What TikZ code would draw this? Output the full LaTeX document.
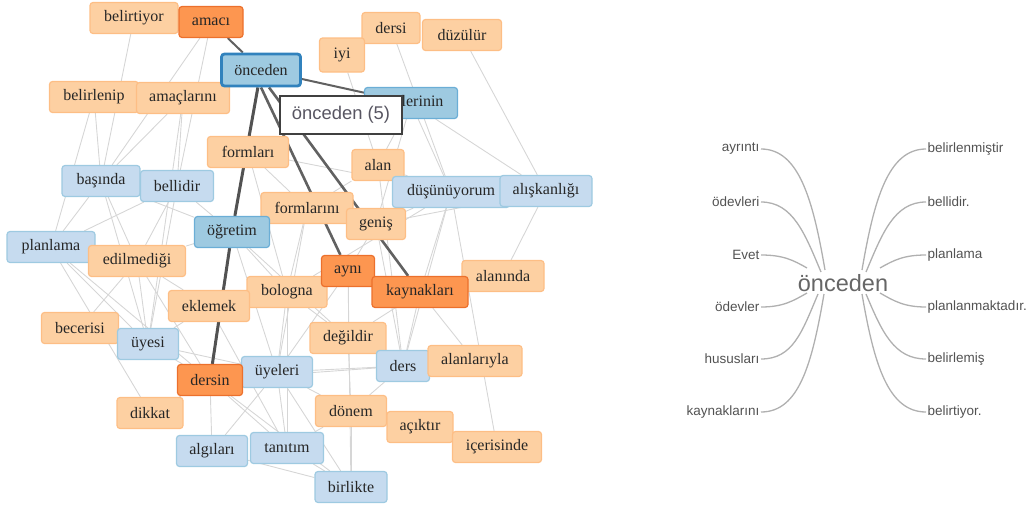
\documentclass[tikz,border=0pt]{standalone}
\usepackage{fontspec}
\setmainfont{Liberation Serif}
\newfontfamily\wtfont{Liberation Sans}
\usetikzlibrary{backgrounds}

\definecolor{loFill}{RGB}{253,208,162}
\definecolor{loLine}{RGB}{253,190,133}
\definecolor{doFill}{RGB}{253,150,80}
\definecolor{doLine}{RGB}{236,112,44}
\definecolor{lbFill}{RGB}{198,219,239}
\definecolor{lbLine}{RGB}{158,202,225}
\definecolor{mbFill}{RGB}{158,202,225}
\definecolor{mbLine}{RGB}{107,174,214}
\definecolor{topLine}{RGB}{49,130,189}
\definecolor{edgeGrey}{RGB}{214,214,214}
\definecolor{wtGrey}{RGB}{176,176,176}
\definecolor{tipText}{RGB}{88,86,98}

\begin{document}
\begin{tikzpicture}[x=1pt,y=-1pt,
    box/.style={draw, rounded corners=3pt, line width=1.2pt, minimum height=31pt,
      inner sep=0pt, font=\fontsize{16}{18}\selectfont, text=black!85},
    lo/.style={box, fill=loFill, draw=loLine},
    do/.style={box, fill=doFill, draw=doLine},
    lb/.style={box, fill=lbFill, draw=lbLine},
    mb/.style={box, fill=mbFill, draw=mbLine},
    thin/.style={draw=edgeGrey, line width=0.9pt},
    heavy/.style={draw=black!62, line width=2.6pt},
    tip/.style={draw=black!75, fill=white, line width=1.2pt, inner sep=0pt,
      minimum width=122pt, minimum height=38pt,
      font=\wtfont\fontsize{18.4}{20}\selectfont, text=tipText},
    wtc/.style={inner sep=0pt, font=\wtfont\fontsize{23.5}{26}\selectfont, text=black!60},
    wtl/.style={inner xsep=1.5pt, inner ysep=0pt, font=\wtfont\fontsize{13.5}{15}\selectfont, text=black!68},
    wtline/.style={draw=wtGrey, line width=1.3pt}]

  \path[use as bounding box] (0,0) rectangle (1028,506);

  % network
  \node[lo, minimum width=88pt] (belirtiyor) at (134,18) {belirtiyor};
  \node[do, minimum width=64pt] (amaci) at (211,22) {amacı};
  \node[lo, minimum width=58pt] (dersi) at (391,28) {dersi};
  \node[lo, minimum width=45pt, minimum height=34pt] (iyi) at (342,55) {iyi};
  \node[lo, minimum width=79pt] (duzulur) at (462,35) {düzülür};
  \node[lo, minimum width=89pt] (belirlenip) at (94,97) {belirlenip};
  \node[lo, minimum width=93pt] (amaclarini) at (183,98) {amaçlarını};
  \node[mb, minimum width=93pt] (uyelerinin) at (411,103) {üyelerinin};
  \node[box, fill=mbFill, draw=topLine, line width=2.8pt, minimum width=79pt, minimum height=32pt] (onceden) at (261,70) {önceden};
  \node[lo, minimum width=81pt] (formlari) at (248,152) {formları};
  \node[lo, minimum width=52pt] (alan) at (378,165) {alan};
  \node[lb, minimum width=78pt] (basinda) at (101,181) {başında};
  \node[lb, minimum width=73pt] (bellidir) at (177,186) {bellidir};
  \node[lb, minimum width=117pt] (dusunuyorum) at (451,192) {düşünüyorum};
  \node[lb, minimum width=92pt] (aliskanligi) at (546,191) {alışkanlığı};
  \node[lo, minimum width=92pt] (formlarini) at (307,208) {formlarını};
  \node[lo, minimum width=59pt] (genis) at (376,224) {geniş};
  \node[mb, minimum width=75pt] (ogretim) at (232,232) {öğretim};
  \node[lb, minimum width=88pt] (planlama) at (51,247) {planlama};
  \node[lo, minimum width=97pt] (edilmedigi) at (137,261) {edilmediği};
  \node[lo, minimum width=82pt] (alaninda) at (503,276) {alanında};
  \node[lo, minimum width=80pt] (bologna) at (287,292) {bologna};
  \node[do, minimum width=53pt] (ayni) at (348,271) {aynı};
  \node[do, minimum width=96pt] (kaynaklari) at (420,292) {kaynakları};
  \node[lo, minimum width=81pt] (eklemek) at (209,306) {eklemek};
  \node[lo, minimum width=77pt] (becerisi) at (80,328) {becerisi};
  \node[lb, minimum width=61pt] (uyesi) at (148,344) {üyesi};
  \node[lo, minimum width=76pt] (degildir) at (348,338) {değildir};
  \node[lb, minimum width=53pt] (ders) at (403,366) {ders};
  \node[lo, minimum width=94pt] (alanlariyla) at (475,361) {alanlarıyla};
  \node[lb, minimum width=71pt] (uyeleri) at (277,372) {üyeleri};
  \node[do, minimum width=65pt] (dersin) at (210,380) {dersin};
  \node[lo, minimum width=66pt] (dikkat) at (150,413) {dikkat};
  \node[lo, minimum width=71pt] (donem) at (351,411) {dönem};
  \node[lo, minimum width=66pt] (aciktir) at (420,427) {açıktır};
  \node[lo, minimum width=89pt] (icerisinde) at (497,447) {içerisinde};
  \node[lb, minimum width=71pt] (algilari) at (212,451) {algıları};
  \node[lb, minimum width=73pt] (tanitim) at (287,448) {tanıtım};
  \node[lb, minimum width=72pt] (birlikte) at (351,487) {birlikte};

  \begin{scope}[on background layer]
    \foreach \a/\b in {belirtiyor/basinda, amaci/basinda, amaci/bellidir,
        belirlenip/planlama, belirlenip/basinda, amaclarini/basinda,
        amaclarini/bellidir, amaclarini/uyesi, basinda/planlama,
        basinda/edilmedigi, basinda/uyesi, basinda/ogretim, bellidir/planlama,
        bellidir/ogretim, bellidir/uyesi, bellidir/edilmedigi,
        planlama/edilmedigi, planlama/uyesi, planlama/dikkat, planlama/dersin,
        edilmedigi/uyesi, edilmedigi/becerisi, edilmedigi/dersin,
        edilmedigi/eklemek, becerisi/uyesi, uyesi/dersin, uyesi/eklemek,
        uyesi/uyeleri, eklemek/bologna, eklemek/tanitim, ogretim/formlarini,
        ogretim/bologna, ogretim/uyeleri, ogretim/edilmedigi,
        ogretim/degildir, formlari/formlarini, formlari/bologna,
        formlari/dusunuyorum, formlarini/genis, formlarini/alan,
        formlarini/uyeleri, formlarini/bologna, alan/uyelerinin,
        alan/dusunuyorum, alan/ders, iyi/alan, dersi/dusunuyorum}
      \draw[thin] (\a) -- (\b);
    \foreach \a/\b in {duzulur/aliskanligi, uyelerinin/aliskanligi,
        uyelerinin/dusunuyorum, uyelerinin/genis, dusunuyorum/genis,
        dusunuyorum/kaynaklari, dusunuyorum/ders, dusunuyorum/icerisinde,
        dusunuyorum/bologna, aliskanligi/alaninda, genis/aliskanligi,
        genis/ayni, genis/ders, ayni/bologna, ayni/birlikte, ayni/uyeleri,
        ayni/degildir, kaynaklari/ders, kaynaklari/degildir,
        kaynaklari/alanlariyla, bologna/tanitim, bologna/degildir,
        bologna/uyeleri, degildir/donem, degildir/ders, ders/uyeleri,
        ders/alanlariyla, ders/donem, ders/dersin, dersin/algilari,
        dersin/tanitim, dersin/birlikte, dersin/dikkat, uyeleri/tanitim,
        uyeleri/birlikte, uyeleri/donem, donem/aciktir, donem/birlikte,
        donem/tanitim, tanitim/birlikte, algilari/birlikte, algilari/uyeleri,
        aciktir/icerisinde}
      \draw[thin] (\a) -- (\b);
    % heavy links of onceden
    \draw[heavy, line width=2pt] (onceden) -- (amaci);
    \draw[heavy, line width=2pt] (onceden) -- (uyelerinin);
    \draw[heavy, draw=black!68, line width=3pt] (onceden) -- (ogretim);
    \draw[heavy, draw=black!68, line width=3pt] (ogretim) -- (dersin);
    \draw[heavy] (onceden.south) -- (ayni);
    \draw[heavy] ([xshift=8pt]onceden.south) -- (kaynaklari);
  \end{scope}

  \node[tip] (tooltip) at (341,115) {önceden (5)};

  % word tree
  \node[wtc] (wt) at (843,283) {önceden};
  \node[wtl, anchor=east] (wtAyrinti) at (761,149) {ayrıntı};
  \node[wtl, anchor=east] (wtOdevleri) at (761,202) {ödevleri};
  \node[wtl, anchor=east] (wtEvet) at (761,255) {Evet};
  \node[wtl, anchor=east] (wtOdevler) at (761,307) {ödevler};
  \node[wtl, anchor=east] (wtHususlari) at (761,359) {hususları};
  \node[wtl, anchor=east] (wtKaynaklarini) at (761,412) {kaynaklarını};
  \node[wtl, anchor=west] (wtBelirlenmistir) at (926,149) {belirlenmiştir};
  \node[wtl, anchor=west] (wtBellidir) at (926,202) {bellidir.};
  \node[wtl, anchor=west] (wtPlanlama) at (926,255) {planlama};
  \node[wtl, anchor=west] (wtPlanlanmaktadir) at (926,307) {planlanmaktadır.};
  \node[wtl, anchor=west] (wtBelirlemis) at (926,359) {belirlemiş};
  \node[wtl, anchor=west] (wtBelirtiyor) at (926,412) {belirtiyor.};

  \foreach \n/\ex/\ey/\c/\kx/\ky in {wtAyrinti/-18/-13/38/-12/-70,
      wtOdevleri/-22/-11/32/-16/-38, wtEvet/-36/-15/22/-14/-8,
      wtOdevler/-36/10/22/-14/8, wtHususlari/-25/11/32/-16/38,
      wtKaynaklarini/-19/11/38/-12/70}
    \draw[wtline] (\n.east) .. controls +(\c,0) and +(\kx,\ky) .. ([shift={(\ex,\ey)}]wt.center);
  \foreach \n/\ex/\ey/\c/\kx/\ky in {wtBelirlenmistir/19/-13/-38/12/-70,
      wtBellidir/23/-11/-32/16/-38, wtPlanlama/37/-15/-22/14/-8,
      wtPlanlanmaktadir/37/10/-22/14/8, wtBelirlemis/23/11/-32/16/38,
      wtBelirtiyor/19/11/-38/12/70}
    \draw[wtline] (\n.west) .. controls +(\c,0) and +(\kx,\ky) .. ([shift={(\ex,\ey)}]wt.center);
\end{tikzpicture}
\end{document}
